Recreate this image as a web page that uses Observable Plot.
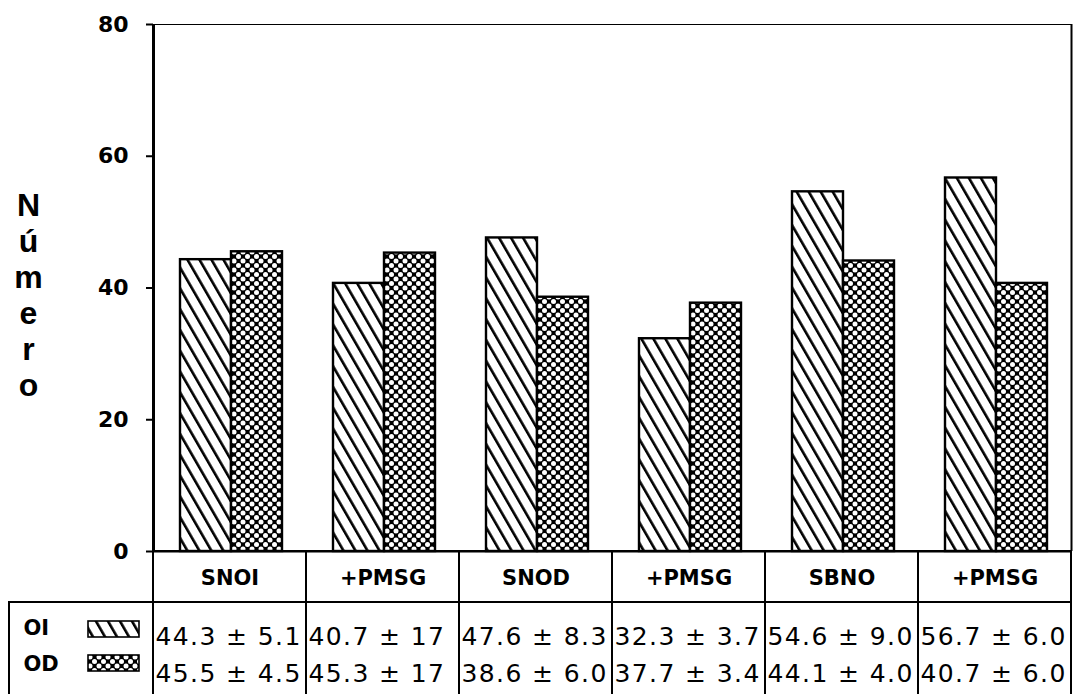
<!DOCTYPE html>
<html><head><meta charset="utf-8">
<script src="https://cdn.jsdelivr.net/npm/d3@7"></script>
<script src="https://cdn.jsdelivr.net/npm/@observablehq/plot@0.6"></script>
<style>
body{margin:0;background:#fff;}
#chart{position:relative;width:1079px;height:694px;overflow:hidden;background:#fff}
</style></head>
<body>
<svg width="0" height="0" style="position:absolute">
<defs>
<pattern id="hatchOI" patternUnits="userSpaceOnUse" width="10.4" height="20" patternTransform="rotate(-30)">
<rect x="0" y="0" width="2.6" height="20" fill="#000"/>
</pattern>
<pattern id="dotsOD" patternUnits="userSpaceOnUse" width="9" height="9">
<rect width="9" height="9" fill="#000"/>
<circle cx="0" cy="0" r="2.5" fill="#fff"/>
<circle cx="9" cy="0" r="2.5" fill="#fff"/>
<circle cx="0" cy="9" r="2.5" fill="#fff"/>
<circle cx="9" cy="9" r="2.5" fill="#fff"/>
<circle cx="4.5" cy="4.5" r="2.5" fill="#fff"/>
</pattern>
</defs></svg>
<div id="chart"></div>
<script>
// ---- data ----
const categories = ["SNOI", "+PMSG", "SNOD", "+PMSG", "SBNO", "+PMSG"];
const series = ["OI", "OD"];
const oiMean = [44.3, 40.7, 47.6, 32.3, 54.6, 56.7];
const oiSd = ["5.1", "17", "8.3", "3.7", "9.0", "6.0"];
const odMean = [45.5, 45.3, 38.6, 37.7, 44.1, 40.7];
const odSd = ["4.5", "17", "6.0", "3.4", "4.0", "6.0"];
const yTicks = [0, 20, 40, 60, 80];
const yLabel = "Número";

const rows = categories.map((c, i) => ({
  i, cat: c, oi: oiMean[i], od: odMean[i], oiSd: oiSd[i], odSd: odSd[i]
}));

// ---- layout ----
const W = 1079, H = 694, mL = 153, mR = 8, mT = 24, mB = 143;
const band = (W - mL - mR) / categories.length;
const barW = 51, padL = 27;
const hdrH = 51;
const valueFont = 25;
const cellStyle = {fill: "none", stroke: "black", strokeWidth: 2};

const plot = Plot.plot({
  width: W, height: H,
  marginLeft: mL, marginRight: mR, marginTop: mT, marginBottom: mB,
  style: {fontFamily: "DejaVu Sans", background: "white", color: "black", overflow: "visible"},
  x: {type: "band", domain: d3.range(categories.length), padding: 0, axis: null},
  y: {domain: [0, 80], label: null},
  marks: [
    Plot.axisY({ticks: yTicks, tickSize: 7, tickPadding: 18, fontSize: 22, fontWeight: "bold", label: null, strokeWidth: 2}),
    // bars
    Plot.barY(rows, {x: "i", y: "oi", fill: "url(#hatchOI)", stroke: "black", strokeWidth: 2.4,
      insetLeft: padL, insetRight: band - padL - barW}),
    Plot.barY(rows, {x: "i", y: "od", fill: "url(#dotsOD)", stroke: "black", strokeWidth: 2.4,
      insetLeft: padL + barW, insetRight: band - padL - 2 * barW}),
    // frame
    Plot.frame({stroke: "black", strokeWidth: 1}),
    Plot.ruleX([0], {x: d => d, dx: -band / 2, y1: 0, y2: 80, strokeWidth: 3}),
    Plot.ruleX([categories.length - 1], {x: d => d, dx: band / 2, y1: 0, y2: 80, strokeWidth: 2}),
    Plot.ruleY([0], {strokeWidth: 2}),
    // table: header cells and value cells
    Plot.barY(rows, {x: "i", y1: 0, y2: 0, insetBottom: -hdrH, ...cellStyle}),
    Plot.barY(rows, {x: "i", y1: 0, y2: 0, insetTop: hdrH, insetBottom: -(mB + 20), ...cellStyle}),
    // legend box on the left of value rows
    Plot.barY([0], {x: d => d, y1: 0, y2: 0, insetTop: hdrH, insetBottom: -(mB + 20),
      insetLeft: -(mL - 9), insetRight: band, ...cellStyle}),
    Plot.barY([0], {x: d => d, y1: 0, y2: 0, insetTop: 70, insetBottom: -86,
      insetLeft: -65, insetRight: band + 14, fill: "url(#hatchOI)", stroke: "black", strokeWidth: 1.6}),
    Plot.barY([0], {x: d => d, y1: 0, y2: 0, insetTop: 104, insetBottom: -120,
      insetLeft: -65, insetRight: band + 14, fill: "url(#dotsOD)", stroke: "black", strokeWidth: 1.6}),
    Plot.text([series[0]], {text: d => d, frameAnchor: "bottom-left", textAnchor: "start",
      dx: -130, dy: 83, fontSize: 21, fontWeight: "bold"}),
    Plot.text([series[1]], {text: d => d, frameAnchor: "bottom-left", textAnchor: "start",
      dx: -130, dy: 119, fontSize: 21, fontWeight: "bold"}),
    // category labels
    Plot.text(rows, {x: "i", y: 0, text: "cat", dy: 27, fontSize: 21, fontWeight: "bold"}),
    // values
    Plot.text(rows, {x: "i", y: 0, text: d => `${d.oi.toFixed(1)} ± ${d.oiSd}`, textAnchor: "start",
      dx: -band / 2 + 2, dy: 85, fontSize: valueFont}),
    Plot.text(rows, {x: "i", y: 0, text: d => `${d.od.toFixed(1)} ± ${d.odSd}`, textAnchor: "start",
      dx: -band / 2 + 2, dy: 122, fontSize: valueFont}),
    // y label, stacked letters
    Plot.text([yLabel], {text: d => d.split("").join("\n"), frameAnchor: "left", dx: -125, dy: 6,
      lineHeight: 1.125, fontSize: 32, fontWeight: "bold", fontFamily: "Liberation Sans", textAnchor: "middle"})
  ]
});
// widen the table value text a little, like the scanned original
d3.select(plot).selectAll(`g[aria-label="text"][font-size="${valueFont}"]`).attr("letter-spacing", 1.4);
document.getElementById("chart").appendChild(plot);
</script>
</body></html>
